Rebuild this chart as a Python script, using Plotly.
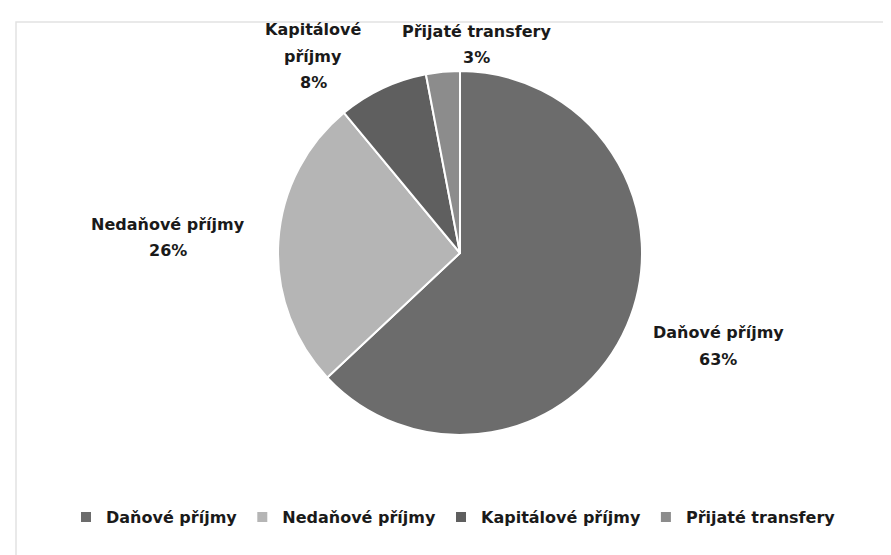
import plotly.graph_objects as go

categories = ["Daňové příjmy", "Nedaňové příjmy", "Kapitálové příjmy", "Přijaté transfery"]
values = [63, 26, 8, 3]
colors = ["#6c6c6c", "#b5b5b5", "#5f5f5f", "#8c8c8c"]
# label lines as shown around the pie (name wrapped as in the reference)
label_lines = [["Daňové příjmy"], ["Nedaňové příjmy"], ["Kapitálové", "příjmy"], ["Přijaté transfery"]]
# label anchor centres in pixels (x, y of first line)
label_pos = [(710, 324), (160, 216), (305, 21), (468, 23)]

W, H = 891, 555
FONT = "DejaVu Sans"

fig = go.Figure(go.Pie(
    labels=categories,
    values=values,
    marker=dict(colors=colors, line=dict(color="white", width=2)),
    sort=False,
    direction="clockwise",
    rotation=0,
    textinfo="none",
    hoverinfo="label+percent",
    domain=dict(x=[(452 - 182) / W, (452 + 182) / W], y=[1 - 427 / H, 1 - 63 / H]),
))

total = sum(values)
annotations = []
line_gap = 27
for lines, (px, py), v in zip(label_lines, label_pos, values):
    all_lines = lines + [f"{round(100 * v / total)}%"]
    for i, t in enumerate(all_lines):
        annotations.append(dict(
            x=px / W, y=1 - (py + i * line_gap) / H, xref="paper", yref="paper",
            text=t, showarrow=False, xanchor="center", yanchor="middle",
            font=dict(family=FONT, size=16, color="#1a1a1a", weight="bold"),
        ))

fig.update_layout(
    width=W, height=H,
    margin=dict(l=0, r=0, t=0, b=0),
    paper_bgcolor="white",
    plot_bgcolor="white",
    showlegend=True,
    legend=dict(
        orientation="h", x=0.5, xanchor="center", y=1 - 509 / H, yanchor="middle",
        font=dict(family=FONT, size=16, color="#1a1a1a", weight="bold"),
        traceorder="normal",
    ),
    annotations=annotations,
    shapes=[dict(type="rect", xref="paper", yref="paper", x0=8 / W, x1=1.02, y0=1 - 548 / H, y1=1 - 14 / H,
                 line=dict(color="#e2e2e2", width=1.5), fillcolor="rgba(0,0,0,0)", layer="below")],
)

fig.write_html("out.html")
